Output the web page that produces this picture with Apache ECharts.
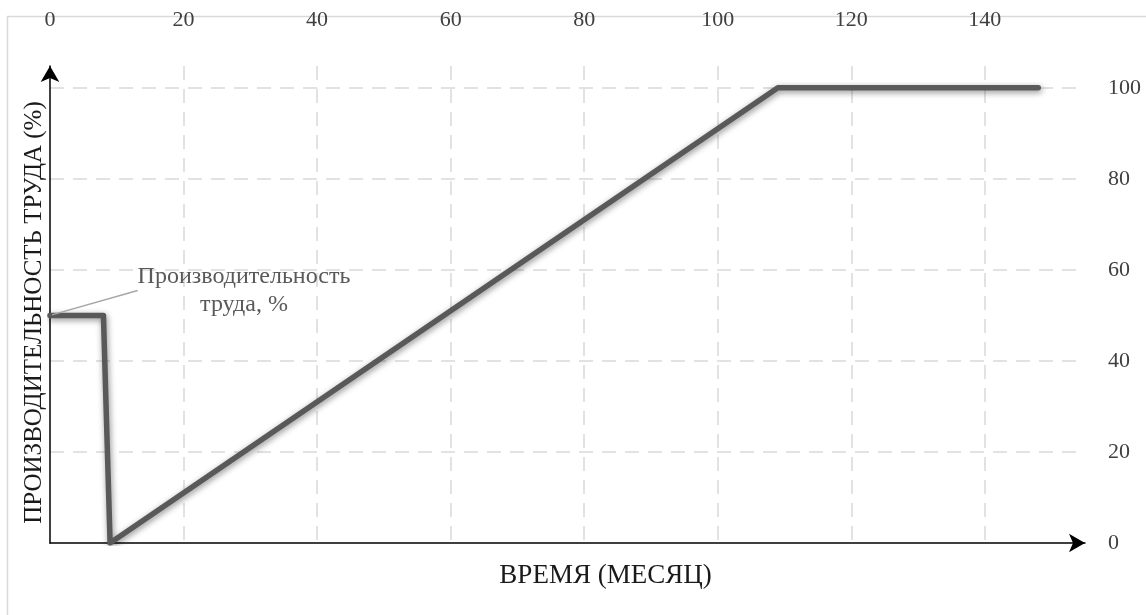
<!DOCTYPE html>
<html>
<head>
<meta charset="utf-8">
<script src="https://cdn.jsdelivr.net/npm/echarts@6/dist/echarts.min.js"></script>
<style>
html,body{margin:0;padding:0;background:#fff;}
#chart{width:1146px;height:615px;}
</style>
</head>
<body>
<div id="chart"></div>
<script>
const months = [0, 8, 9, 109, 148];
const productivity = [50, 50, 0, 100, 100];
const xTicks = [0, 20, 40, 60, 80, 100, 120, 140];
const yTicks = [0, 20, 40, 60, 80, 100];
const seriesName = 'Производительность\nтруда, %';
const xTitle = 'ВРЕМЯ (МЕСЯЦ)';
const yTitle = 'ПРОИЗВОДИТЕЛЬНОСТЬ ТРУДА (%)';

const font = '"Liberation Serif", "DejaVu Serif", serif';
const X_MAX = 155, Y_MAX = 104.8;

const chart = echarts.init(document.getElementById('chart'), null, {renderer: 'canvas'});
const data = months.map((m, i) => [m, productivity[i]]);

chart.setOption({
  animation: false,
  backgroundColor: '#fff',
  graphic: [{
    type: 'rect', shape: {x: 7.5, y: 16.5, width: 1200, height: 700},
    style: {fill: 'none', stroke: '#d9d9d9', lineWidth: 1.5}, silent: true
  }],
  grid: {left: 50, right: 61, top: 66, bottom: 72, containLabel: false},
  xAxis: [{
    type: 'value', position: 'bottom', min: 0, max: X_MAX, interval: 20,
    name: xTitle, nameLocation: 'middle', nameGap: 19,
    nameTextStyle: {fontFamily: font, fontSize: 27, color: '#1a1a1a', padding: [0, 0, 0, 76]},
    axisLine: {show: true, onZero: false, symbol: ['none', 'arrow'], symbolSize: [14, 16], lineStyle: {color: '#000', width: 1.5}},
    axisTick: {show: false}, axisLabel: {show: false},
    splitLine: {show: true, showMinLine: false, showMaxLine: false, lineStyle: {color: '#d9d9d9', type: [14, 9], width: 1.5}}
  }, {
    type: 'value', position: 'top', min: 0, max: X_MAX, interval: 20,
    axisLine: {show: false}, axisTick: {show: false}, splitLine: {show: false},
    axisLabel: {
      show: true, margin: 35, fontFamily: font, fontSize: 22, color: '#404040',
      showMaxLabel: false,
      formatter: v => xTicks.includes(v) ? String(v) : ''
    }
  }],
  yAxis: [{
    type: 'value', position: 'left', min: 0, max: Y_MAX, interval: 20,
    name: yTitle, nameLocation: 'middle', nameGap: 3, nameRotate: 90,
    nameTextStyle: {fontFamily: font, fontSize: 25, color: '#1a1a1a', padding: [0, 16, 0, 0]},
    axisLine: {show: true, onZero: false, symbol: ['none', 'arrow'], symbolSize: [14, 16], lineStyle: {color: '#000', width: 1.5}},
    axisTick: {show: false}, axisLabel: {show: false},
    splitLine: {show: true, showMinLine: false, showMaxLine: false, lineStyle: {color: '#d9d9d9', type: [14, 9], width: 1.5}}
  }, {
    type: 'value', position: 'right', min: 0, max: Y_MAX, interval: 20,
    axisLine: {show: false}, axisTick: {show: false}, splitLine: {show: false},
    axisLabel: {
      show: true, margin: 23, fontFamily: font, fontSize: 22, color: '#404040',
      showMaxLabel: false,
      formatter: v => yTicks.includes(v) ? String(v) : ''
    }
  }],
  series: [{
    type: 'line', name: seriesName, xAxisIndex: 0, yAxisIndex: 0,
    data: data.map((d, i) => i === 0 ? {
      value: d,
      label: {
        show: true, formatter: seriesName, position: 'inside',
        fontFamily: font, fontSize: 24, color: '#595959', align: 'center', lineHeight: 28
      },
      labelLine: {show: true, lineStyle: {color: '#a6a6a6', width: 1.5}}
    } : d),
    labelLayout: p => p.dataIndex === 0 ? {dx: 194, dy: -25} : {},
    labelLine: {show: true, lineStyle: {color: '#a6a6a6', width: 1.5}},
    showSymbol: true, symbol: 'circle', symbolSize: 4,
    itemStyle: {color: '#595959'},
    smooth: false,
    lineStyle: {
      color: '#595959', width: 5.5, cap: 'round', join: 'round',
      shadowColor: 'rgba(0,0,0,0.45)', shadowBlur: 6, shadowOffsetX: 1, shadowOffsetY: 2
    },
    z: 5
  }]
});
</script>
</body>
</html>
